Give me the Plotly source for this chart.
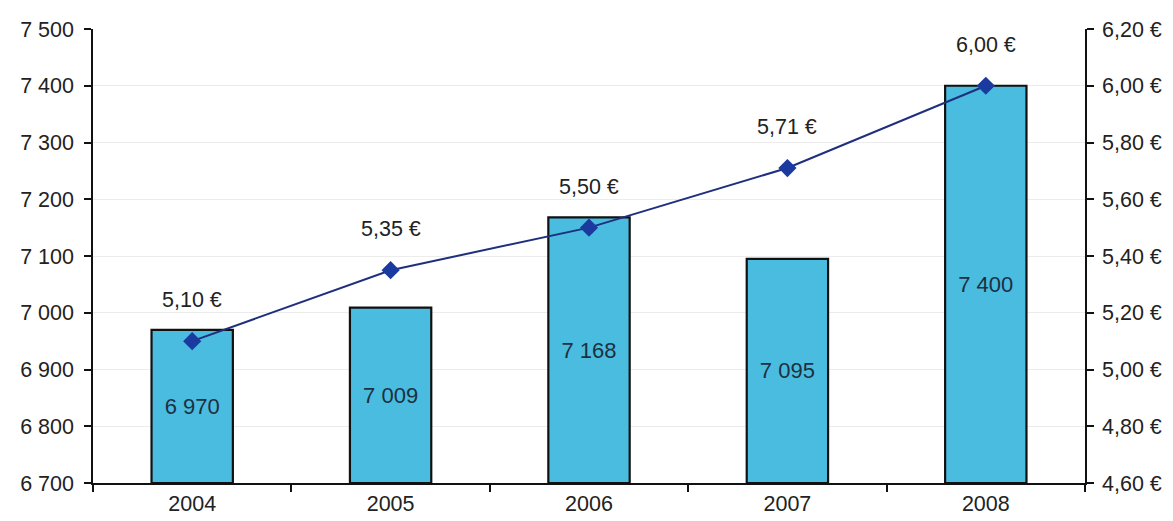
import plotly.graph_objects as go

years = ["2004", "2005", "2006", "2007", "2008"]
volumes = [6970, 7009, 7168, 7095, 7400]
prices = [5.10, 5.35, 5.50, 5.71, 6.00]
bar_labels = ["6 970", "7 009", "7 168", "7 095", "7 400"]
price_labels = ["5,10 €", "5,35 €", "5,50 €", "5,71 €", "6,00 €"]
y_base = 6700

font_family = "Liberation Sans, Arial, sans-serif"
fs = 21.5

fig = go.Figure()
fig.add_trace(go.Bar(
    x=years,
    y=[v - y_base for v in volumes],
    base=y_base,
    text=bar_labels,
    textposition="inside",
    insidetextanchor="middle",
    textfont=dict(family=font_family, size=22, color="#1d3040"),
    marker=dict(color="#4abce0", line=dict(color="#111111", width=2.2)),
    width=0.41,
    yaxis="y",
    showlegend=False,
))
fig.add_trace(go.Scatter(
    x=years,
    y=prices,
    mode="lines+markers",
    line=dict(color="#1e2f7e", width=2),
    marker=dict(symbol="diamond", size=14, color="#1b3aa0"),
    yaxis="y2",
    showlegend=False,
    cliponaxis=False,
))

for i, (p, lab) in enumerate(zip(prices, price_labels)):
    fig.add_annotation(
        x=i, y=p, xref="x", yref="y2", text=lab, showarrow=False,
        yshift=41, font=dict(family=font_family, size=fs, color="#222222"),
    )

axis_common = dict(
    showline=True, linecolor="#111111", linewidth=1.5,
    ticks="outside", ticklen=7, tickcolor="#111111", tickwidth=1.5,
    tickfont=dict(size=fs), automargin=False,
)

fig.update_layout(
    width=1165, height=513,
    margin=dict(l=85, r=88, t=21, b=38),
    paper_bgcolor="white", plot_bgcolor="white",
    separators=", ",
    font=dict(family=font_family, size=fs, color="#222222"),
    xaxis=dict(
        type="category",
        range=[-0.5, 4.5],
        tickson="boundaries",
        showgrid=False,
        **axis_common,
    ),
    yaxis=dict(
        range=[6700, 7500], dtick=100, tickformat=",.0f",
        showgrid=True, gridcolor="#ececec", gridwidth=1,
        zeroline=False, ticklabelstandoff=6,
        **axis_common,
    ),
    yaxis2=dict(
        range=[4.6, 6.2], dtick=0.2, tickformat=".2f", ticksuffix=" €",
        overlaying="y", side="right",
        showgrid=False, zeroline=False, ticklabelstandoff=4,
        **axis_common,
    ),
)

fig.write_html("out.html")
